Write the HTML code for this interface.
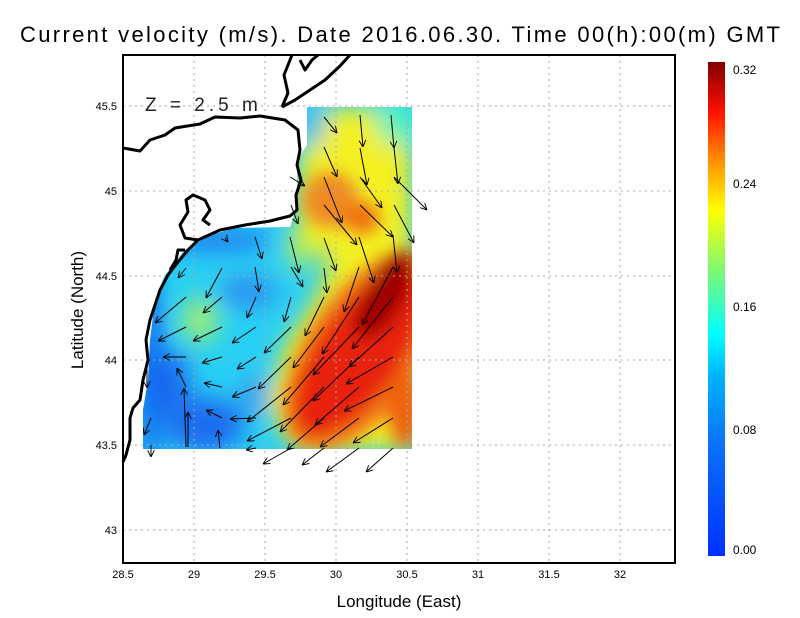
<!DOCTYPE html>
<html><head><meta charset="utf-8"><style>
body{margin:0;background:#fff;}
svg{display:block;font-family:"Liberation Sans",sans-serif;}
</style></head><body>
<svg width="800" height="618" viewBox="0 0 800 618" xmlns="http://www.w3.org/2000/svg">
<defs>
<filter id="b1" x="-50%" y="-50%" width="200%" height="200%"><feGaussianBlur stdDeviation="12"/></filter>
<filter id="b2" x="-50%" y="-50%" width="200%" height="200%"><feGaussianBlur stdDeviation="8"/></filter>
<clipPath id="dom"><polygon points="307,107 412,107 412,449 143,449 143,410 148,380 150,340 155,300 165,275 185,250 210,235 235,228 290,227 297,205 297,160 307,145"/></clipPath>
<linearGradient id="jet" x1="0" y1="1" x2="0" y2="0">
<stop offset="0" stop-color="#0030ff"/><stop offset="0.22" stop-color="#0a70f8"/><stop offset="0.36" stop-color="#00b0ff"/><stop offset="0.45" stop-color="#00ffff"/><stop offset="0.58" stop-color="#80f870"/><stop offset="0.7" stop-color="#ffff00"/><stop offset="0.8" stop-color="#ff9000"/><stop offset="0.9" stop-color="#ff1000"/><stop offset="1" stop-color="#800000"/>
</linearGradient>
<marker id="ah" viewBox="0 0 10 10" refX="10" refY="5" markerWidth="7" markerHeight="7" orient="auto" markerUnits="userSpaceOnUse"><path d="M0,0 L10,5 L0,10" fill="none" stroke="#000" stroke-width="1.3"/></marker>
</defs>
<text x="400" y="42" font-size="22" text-anchor="middle" textLength="760" lengthAdjust="spacing">Current velocity (m/s). Date 2016.06.30. Time 00(h):00(m) GMT</text>
<g clip-path="url(#dom)">
<rect x="140" y="100" width="280" height="355" fill="#28d0f4"/>
<g filter="url(#b1)">
<ellipse cx="150" cy="370" rx="12" ry="100" fill="#1060f0"/>
<ellipse cx="205" cy="425" rx="40" ry="28" fill="#1a6cf0"/>
<ellipse cx="175" cy="385" rx="15" ry="35" fill="#1a6cf0"/>
<ellipse cx="248" cy="292" rx="30" ry="16" fill="#2a90f0"/>
<ellipse cx="215" cy="240" rx="60" ry="10" fill="#1a70f0"/>
<ellipse cx="255" cy="395" rx="18" ry="20" fill="#30a0f0"/>
<ellipse cx="200" cy="320" rx="18" ry="22" fill="#a0f070"/>
<ellipse cx="300" cy="248" rx="12" ry="22" fill="#c0f050"/>
<polygon points="295,449 268,405 285,345 315,300 330,260 300,240 300,150 330,107 412,107 412,449" fill="#f4f020"/>
<ellipse cx="398" cy="122" rx="22" ry="22" fill="#50f0c0"/>
<ellipse cx="312" cy="125" rx="12" ry="20" fill="#40b0f0"/>
</g>
<g filter="url(#b2)">
<ellipse cx="330" cy="200" rx="28" ry="28" fill="#f08a20"/>
<ellipse cx="362" cy="218" rx="18" ry="16" fill="#f07010"/>
<ellipse cx="365" cy="350" rx="58" ry="115" transform="rotate(35 365 350)" fill="#f07818"/>
<ellipse cx="360" cy="352" rx="42" ry="98" transform="rotate(35 360 352)" fill="#e82010"/>
<ellipse cx="385" cy="295" rx="20" ry="50" transform="rotate(30 385 295)" fill="#a00000"/>
<ellipse cx="405" cy="410" rx="16" ry="38" fill="#f06010"/>
</g>
</g>
<g stroke="#aaa" stroke-width="1" stroke-dasharray="2,4">
<line x1="194" y1="55" x2="194" y2="563"/><line x1="265" y1="55" x2="265" y2="563"/><line x1="336" y1="55" x2="336" y2="563"/><line x1="407" y1="55" x2="407" y2="563"/><line x1="478" y1="55" x2="478" y2="563"/><line x1="549" y1="55" x2="549" y2="563"/><line x1="620" y1="55" x2="620" y2="563"/>
<line x1="123" y1="106" x2="675" y2="106"/><line x1="123" y1="191" x2="675" y2="191"/><line x1="123" y1="276" x2="675" y2="276"/><line x1="123" y1="360" x2="675" y2="360"/><line x1="123" y1="445" x2="675" y2="445"/><line x1="123" y1="530" x2="675" y2="530"/>
</g>
<g fill="none" stroke="#000" stroke-width="3" stroke-linejoin="round">
<path d="M123,148 L140,151 L150,140 L165,135 L175,128 L200,124 L215,117 L240,118 L260,116 L285,120 L298,130 L300,150 L297,165 L301,180 L296,195 L297,210 L290,216 L270,221 L245,225 L220,230 L198,240 L188,250 L178,262 L168,275 L160,290 L155,305 L150,320 L146,340 L148,360 L143,380 L140,400 L133,408 L130,418 L130,440 L126,455 L123,462"/>
<path d="M282,107 L288,93 L284,75 L290,60 L292,55"/>
<path d="M282,107 L295,100 L310,90 L325,80 L340,66 L350,55"/>
<path d="M300,60 L305,70 L312,60 L318,55"/>
<path d="M198,240 L185,238 L180,225 L188,212 L186,200 L193,195 L205,200 L210,210 L203,220 L210,225"/>
<path d="M185,250 L178,250 L176,260 L170,270"/>
</g>
<g stroke="#000" stroke-width="1" marker-end="url(#ah)">
<line x1="324" y1="117" x2="337" y2="133"/><line x1="360" y1="115" x2="363" y2="147"/><line x1="391" y1="115" x2="394" y2="148"/>
<line x1="324" y1="147" x2="337" y2="177"/><line x1="360" y1="148" x2="367" y2="185"/><line x1="394" y1="148" x2="398" y2="184"/>
<line x1="290" y1="177" x2="305" y2="186"/><line x1="324" y1="177" x2="342" y2="223"/><line x1="360" y1="177" x2="382" y2="208"/><line x1="394" y1="177" x2="427" y2="210"/>
<line x1="291" y1="205" x2="298" y2="224"/><line x1="324" y1="205" x2="357" y2="245"/><line x1="360" y1="205" x2="393" y2="237"/><line x1="394" y1="205" x2="414" y2="243"/>
<line x1="225" y1="238" x2="228" y2="242"/><line x1="255" y1="237" x2="262" y2="259"/><line x1="290" y1="237" x2="299" y2="273"/><line x1="324" y1="238" x2="336" y2="271"/><line x1="359" y1="237" x2="374" y2="283"/><line x1="393" y1="235" x2="397" y2="273"/>
<line x1="186" y1="268" x2="178" y2="278"/><line x1="222" y1="268" x2="206" y2="298"/><line x1="255" y1="267" x2="259" y2="292"/><line x1="291" y1="267" x2="303" y2="287"/><line x1="324" y1="268" x2="327" y2="293"/><line x1="359" y1="267" x2="344" y2="312"/><line x1="393" y1="267" x2="362" y2="325"/>
<line x1="186" y1="297" x2="155" y2="323"/><line x1="222" y1="297" x2="203" y2="313"/><line x1="256" y1="297" x2="247" y2="318"/><line x1="291" y1="297" x2="284" y2="322"/><line x1="324" y1="297" x2="305" y2="336"/><line x1="359" y1="297" x2="322" y2="354"/><line x1="393" y1="297" x2="352" y2="349"/>
<line x1="186" y1="327" x2="158" y2="341"/><line x1="222" y1="327" x2="193" y2="341"/><line x1="256" y1="327" x2="232" y2="343"/><line x1="291" y1="327" x2="264" y2="353"/><line x1="324" y1="327" x2="293" y2="368"/><line x1="359" y1="327" x2="313" y2="375"/><line x1="393" y1="327" x2="349" y2="367"/>
<line x1="186" y1="357" x2="163" y2="357"/><line x1="222" y1="357" x2="202" y2="363"/><line x1="256" y1="357" x2="237" y2="369"/><line x1="291" y1="357" x2="258" y2="389"/><line x1="324" y1="357" x2="283" y2="405"/><line x1="359" y1="357" x2="313" y2="401"/><line x1="393" y1="357" x2="346" y2="384"/>
<line x1="186" y1="387" x2="177" y2="368"/><line x1="222" y1="387" x2="204" y2="383"/><line x1="256" y1="387" x2="232" y2="397"/><line x1="291" y1="387" x2="247" y2="422"/><line x1="324" y1="387" x2="280" y2="432"/><line x1="359" y1="387" x2="315" y2="425"/><line x1="393" y1="387" x2="344" y2="411"/>
<line x1="147" y1="330" x2="147" y2="388"/><line x1="151" y1="418" x2="144" y2="435"/><line x1="151" y1="445" x2="151" y2="457"/>
<line x1="186" y1="447" x2="184" y2="388"/><line x1="188" y1="447" x2="188" y2="412"/>
<line x1="222" y1="418" x2="206" y2="410"/><line x1="256" y1="418" x2="230" y2="419"/><line x1="291" y1="418" x2="247" y2="441"/><line x1="324" y1="418" x2="287" y2="450"/><line x1="359" y1="418" x2="320" y2="447"/><line x1="393" y1="418" x2="353" y2="443"/>
<line x1="220" y1="448" x2="218" y2="430"/><line x1="256" y1="448" x2="246" y2="450"/><line x1="291" y1="448" x2="263" y2="464"/><line x1="324" y1="448" x2="302" y2="465"/><line x1="359" y1="448" x2="326" y2="472"/><line x1="393" y1="448" x2="366" y2="472"/>
</g>
<text x="145" y="111" font-size="19" letter-spacing="4" fill="#222">Z = 2.5 m</text>
<rect x="123" y="55" width="552" height="508" fill="none" stroke="#000" stroke-width="2"/>
<g font-size="11" text-anchor="middle">
<text x="123" y="578">28.5</text><text x="194" y="578">29</text><text x="265" y="578">29.5</text><text x="336" y="578">30</text><text x="407" y="578">30.5</text><text x="478" y="578">31</text><text x="549" y="578">31.5</text><text x="620" y="578">32</text>
</g>
<g font-size="11" text-anchor="end">
<text x="117" y="110">45.5</text><text x="117" y="195">45</text><text x="117" y="280">44.5</text><text x="117" y="364">44</text><text x="117" y="449">43.5</text><text x="117" y="534">43</text>
</g>
<text x="399" y="607" font-size="17" text-anchor="middle">Longitude (East)</text>
<text transform="translate(83,310) rotate(-90)" font-size="17" text-anchor="middle">Latitude (North)</text>
<rect x="708" y="62" width="17" height="494" fill="url(#jet)"/>
<g font-size="12"><text x="733" y="74">0.32</text><text x="733" y="188">0.24</text><text x="733" y="311">0.16</text><text x="733" y="434">0.08</text><text x="733" y="554">0.00</text></g>
</svg>
</body></html>
